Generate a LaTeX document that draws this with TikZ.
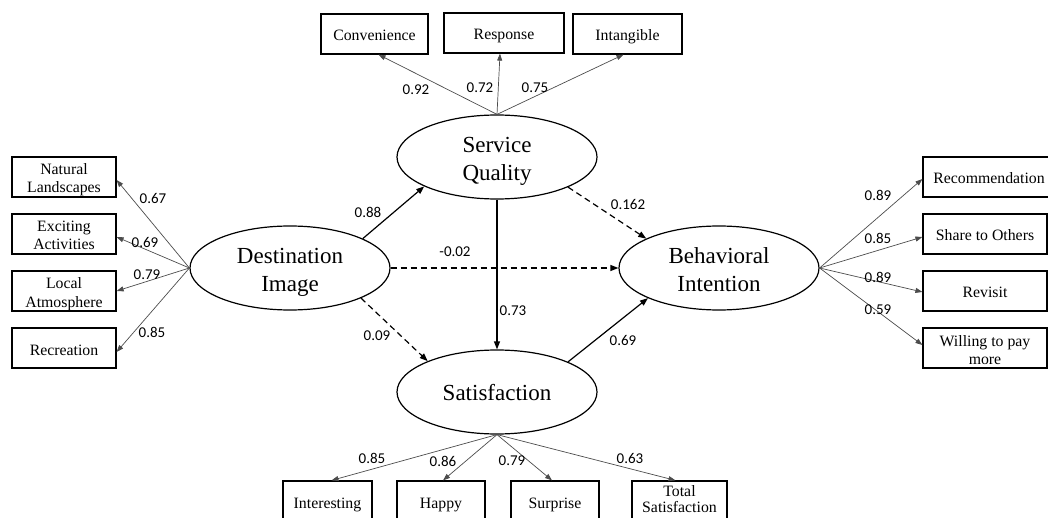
\documentclass[tikz,border=0pt]{standalone}
\usepackage{fontspec}
\setmainfont{Liberation Serif}
\newfontfamily\numfont{Carlito}
\usetikzlibrary{shapes.geometric,arrows.meta}
\newcommand\myoT{\rule{0pt}{18pt}}
\newcommand\myoB{\rule[-4pt]{0pt}{4pt}}
\newcommand\mylT{\rule{0pt}{25.2pt}}
\newcommand\mylB{\rule[-6.6pt]{0pt}{6.6pt}}
\newcommand\mysT{\rule{0pt}{22.6pt}}
\begin{document}
\begin{tikzpicture}[x=1pt,y=-1pt,
  latent/.style={ellipse,draw,line width=1.2pt,minimum width=200pt,minimum height=84pt,inner sep=-10pt,align=center,font=\fontsize{23}{28}\selectfont},
  obs/.style={rectangle,draw,line width=1.2pt,minimum height=40pt,inner sep=0pt,align=center,font=\fontsize{15.8}{18}\selectfont},
  loadarrow/.style={draw=black!70,line width=0.7pt,-{Triangle[length=7pt,width=5pt]}},
  strpath/.style={line width=1.2pt,-{Triangle[length=8pt,width=6pt]}},
  dashpath/.style={strpath,dash pattern=on 6pt off 4pt},
  coef/.style={font=\numfont\fontsize{15}{18}\selectfont,inner sep=0pt},
]
\useasboundingbox (0,0) rectangle (1048,518);

% latent variables
\node[latent] (SQ)  at (497,157) {\mylT Service\\Quality\mylB};
\node[latent] (DI)  at (290,268) {\mylT Destination\\Image\mylB};
\node[latent] (BI)  at (719,268) {\mylT Behavioral\\Intention\mylB};
\node[latent] (SAT) at (497,392) {\mysT Satisfaction\mylB};

% top indicators
\node[obs,minimum width=107pt] (conv)   at (374.5,34) {\myoT Convenience\myoB};
\node[obs,minimum width=120pt] (resp)   at (504,33)   {\myoT Response\myoB};
\node[obs,minimum width=109pt] (intang) at (627.5,34) {\myoT Intangible\myoB};

% left indicators
\node[obs,minimum width=104pt] (nat)  at (64,177) {\myoT Natural\\Landscapes\myoB};
\node[obs,minimum width=104pt] (exc)  at (64,234) {\myoT Exciting\\Activities\myoB};
\node[obs,minimum width=104pt] (loc)  at (64,291) {\myoT Local\\Atmosphere\myoB};
\node[obs,minimum width=104pt] (rec)  at (64,348) {\myoT Recreation\myoB};

% right indicators
\node[obs,minimum width=132pt] (recom) at (989,177) {\myoT Recommendation\myoB};
\node[obs,minimum width=124pt] (share) at (985,234) {\myoT Share to Others\myoB};
\node[obs,minimum width=124pt] (revis) at (985,291) {\myoT Revisit\myoB};
\node[obs,minimum width=124pt] (will)  at (985,348) {\myoT Willing to pay\\more\myoB};

% bottom indicators
\node[obs,minimum width=89pt] (inter) at (327.5,501) {\myoT Interesting\myoB};
\node[obs,minimum width=88pt] (happy) at (441,501)   {\myoT Happy\myoB};
\node[obs,minimum width=88pt] (surp)  at (555,501)   {\myoT Surprise\myoB};
\node[obs,minimum width=95pt,font=\fontsize{15.8}{16}\selectfont] (total) at (679.5,501) {Total\\Satisfaction\myoB};

% loadings
\draw[loadarrow] (SQ.north) -- ([xshift=4pt]conv.south);
\draw[loadarrow] (SQ.north) -- ([xshift=-4pt]resp.south);
\draw[loadarrow] (SQ.north) -- ([xshift=-4pt]intang.south);

\draw[loadarrow] (DI.west) -- ([yshift=-3pt]nat.east);
\draw[loadarrow] (DI.west) -- ([yshift=-3pt]exc.east);
\draw[loadarrow] (DI.west) -- (loc.east);
\draw[loadarrow] (DI.west) -- ([yshift=-4pt]rec.east);

\draw[loadarrow] (BI.east) -- ([yshift=-2pt]recom.west);
\draw[loadarrow] (BI.east) -- ([yshift=-3pt]share.west);
\draw[loadarrow] (BI.east) -- ([yshift=-1pt]revis.west);
\draw[loadarrow] (BI.east) -- ([yshift=3pt]will.west);

\draw[loadarrow] (SAT.south) -- ([xshift=4pt]inter.north);
\draw[loadarrow] (SAT.south) -- ([xshift=2pt]happy.north);
\draw[loadarrow] (SAT.south) -- ([xshift=-3pt]surp.north);
\draw[loadarrow] (SAT.south) -- ([xshift=-4pt]total.north);

% structural paths
\draw[strpath]  (DI.22)  -- (SQ.202);
\draw[dashpath] (SQ.-23) -- (BI.158);
\draw[dashpath] (DI.east) -- (BI.west);
\draw[strpath]  (SQ.south) -- (SAT.north);
\draw[dashpath] (DI.-23) -- (SAT.156);
\draw[strpath]  (SAT.23) -- (BI.203);

% coefficients
\node[coef] (c1) at (416,90) {0.92};
\node[coef] (c2) at (480,88) {0.72};
\node[coef] (c3) at (535,88) {0.75};
\node[coef] (c4) at (153,198) {0.67};
\node[coef] (c5) at (145,242) {0.69};
\node[coef] (c6) at (147,275) {0.79};
\node[coef] (c7) at (152,332) {0.85};
\node[coef] (c8) at (878,195) {0.89};
\node[coef] (c9) at (878,238) {0.85};
\node[coef] (c10) at (878,277) {0.89};
\node[coef] (c11) at (878,310) {0.59};
\node[coef] (c12) at (372,458) {0.85};
\node[coef] (c13) at (443,461) {0.86};
\node[coef] (c14) at (512,461) {0.79};
\node[coef] (c15) at (630,458) {0.63};
\node[coef] (c16) at (368,212) {0.88};
\node[coef] (c17) at (628,204) {0.162};
\node[coef] (c18) at (455,252) {-0.02};
\node[coef] (c19) at (513,311) {0.73};
\node[coef] (c20) at (377,336) {0.09};
\node[coef] (c21) at (623,340) {0.69};
\end{tikzpicture}
\end{document}
